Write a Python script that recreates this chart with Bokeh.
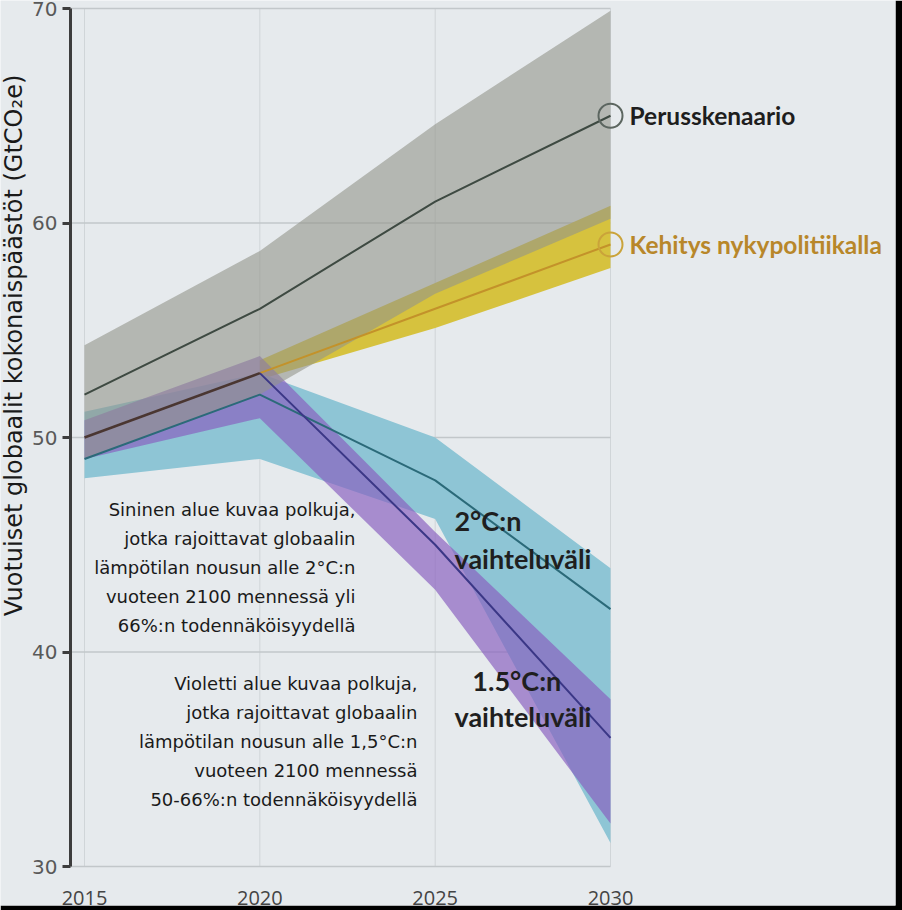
import math
from bokeh.plotting import figure
from bokeh.models import FixedTicker, Range1d
from bokeh.core.properties import value
from bokeh.embed import file_html
from bokeh.resources import INLINE

# ---------------- data ----------------
years = [2015, 2020, 2025, 2030]

# Perusskenaario (baseline)
base_mid = [52, 56, 61, 65]
base_low = [49.0, 52.0, 56.7, 60.2]
base_high = [54.3, 58.7, 64.6, 69.9]

# historical segment
hist_years = [2015, 2020]
hist = [50, 53]

# Kehitys nykypolitiikalla (current policy)
cur_years = [2020, 2025, 2030]
cur_mid = [53, 56, 59]
cur_low = [52.7, 55.1, 57.9]
cur_high = [53.6, 57.2, 60.8]

# 2 °C range
two_mid = [49, 52, 48, 42]
two_low = [48.1, 49.0, 46.2, 31.1]
two_high = [51.2, 53.0, 50.0, 43.9]

# 1.5 °C range
one5_years = [2020, 2025, 2030]
one5_mid = [53, 45, 36]
one5_low = [49.0, 50.9, 42.9, 32.0]
one5_high = [50.8, 53.8, 45.6, 37.8]

y_ticks = [30, 40, 50, 60, 70]
x_ticks = [2015, 2020, 2025, 2030]

series_names = ["Perusskenaario", "Kehitys nykypolitiikalla"]
series_end = [65, 59]

scen_text = ["2°C:n", "vaihteluväli", "1.5°C:n", "vaihteluväli"]
scen_x = [2025.55, 2025.55, 2026.06, 2025.55]
scen_y = [46.15, 44.36, 38.67, 37.0]

note_2c = ["Sininen alue kuvaa polkuja,", "jotka rajoittavat globaalin",
           "lämpötilan nousun alle 2°C:n", "vuoteen 2100 mennessä yli",
           "66%:n todennäköisyydellä"]
note_15 = ["Violetti alue kuvaa polkuja,", "jotka rajoittavat globaalin",
           "lämpötilan nousun alle 1,5°C:n", "vuoteen 2100 mennessä",
           "50-66%:n todennäköisyydellä"]

y_label = "Vuotuiset globaalit kokonaispäästöt (GtCO₂e)"

# ---------------- figure ----------------
BG = "#e6eaed"
X0, X1 = 2012.6046, 2038.127
Y0, Y1 = 28.182, 70.373
AXIS_X = 2014.6008

p = figure(width=902, height=910, output_backend="svg", toolbar_location=None,
           x_range=Range1d(X0, X1), y_range=Range1d(Y0, Y1),
           min_border_left=0, min_border_right=7, min_border_top=0, min_border_bottom=5)
p.background_fill_color = BG
p.border_fill_color = "#000000"
p.outline_line_color = None
p.grid.visible = False

# grid lines limited to the data area
ylo, yhi = y_ticks[0], y_ticks[-1]
p.segment(x0=x_ticks, y0=[ylo] * len(x_ticks), x1=x_ticks, y1=[yhi] * len(x_ticks),
          line_color="#d0d5d8", line_width=1)
p.segment(x0=[AXIS_X] * len(y_ticks), y0=y_ticks, x1=[x_ticks[-1]] * len(y_ticks), y1=y_ticks,
          line_color="#c2c7ca", line_width=1.5)

# y axis
ax = p.yaxis[0]
ax.fixed_location = AXIS_X
ax.bounds = (ylo, yhi)
ax.ticker = FixedTicker(ticks=y_ticks)
ax.axis_line_color = "#3d3d3d"
ax.axis_line_width = 3
ax.major_tick_line_color = "#3d3d3d"
ax.major_tick_line_width = 3
ax.major_tick_out = 8
ax.major_tick_in = 0
ax.minor_tick_line_color = None
ax.major_label_standoff = 5
ax.major_label_text_font = "DejaVu Sans"
ax.major_label_text_font_size = "20px"
ax.major_label_text_color = "#595959"

# x axis (labels only)
xa = p.xaxis[0]
xa.fixed_location = ylo
xa.ticker = FixedTicker(ticks=x_ticks)
xa.axis_line_color = None
xa.major_tick_line_color = None
xa.minor_tick_line_color = None
xa.major_tick_out = 0
xa.major_tick_in = 0
xa.major_label_standoff = 24
xa.major_label_text_font = "Open Sans"
xa.major_label_text_font_size = "20px"
xa.major_label_text_color = "#444444"

# ---------------- bands ----------------
p.varea(x=cur_years, y1=cur_low, y2=cur_high, fill_color="#d6c23e", fill_alpha=1.0)
p.varea(x=years, y1=two_low, y2=two_high, fill_color="#8ec5d5", fill_alpha=1.0)
p.varea(x=years, y1=one5_low, y2=one5_high, fill_color="#875ebf", fill_alpha=0.67)
p.varea(x=years, y1=base_low, y2=base_high, fill_color="#93958a", fill_alpha=0.6)

# ---------------- lines ----------------
p.line(years, base_mid, line_color="#3e4a42", line_width=2)
p.line(cur_years, cur_mid, line_color="#c3922a", line_width=2)
p.line(years, two_mid, line_color="#2b6a79", line_width=2)
p.line(one5_years, one5_mid, line_color="#3b3786", line_width=2)
p.line(hist_years, hist, line_color="#4a3631", line_width=2.5)

# end markers and series labels
p.scatter(x=[x_ticks[-1]] * 2, y=series_end, size=24, marker="circle",
          fill_color=None, line_color=["#5c6660", "#caa33a"], line_width=2)
p.text(x=[x_ticks[-1]] * 2, y=series_end, text=series_names, x_offset=19,
       text_font=value("Lato"), text_font_style="bold", text_font_size="24.5px",
       text_color=["#1e1e1e", "#b8872a"], text_baseline="middle", text_align="left")

# range labels
p.text(x=scen_x, y=scen_y, text=scen_text, text_font=value("Lato"),
       text_font_style="bold", text_font_size="27px", text_color="#1f1f1f",
       text_baseline="middle", text_align="left")

# explanatory notes
p.text(x=[2022.728], y=[43.94], text=["\n".join(note_2c)], text_font=value("DejaVu Sans"),
       text_font_size="18px", text_color="#1a1a1a", text_align="right",
       text_baseline="middle", text_line_height=1.39)
p.text(x=[2024.495], y=[35.83], text=["\n".join(note_15)], text_font=value("DejaVu Sans"),
       text_font_size="18px", text_color="#1a1a1a", text_align="right",
       text_baseline="middle", text_line_height=1.39)

# y axis title
p.text(x=[2013.0], y=[54.29], text=[y_label], angle=math.pi / 2,
       text_font=value("DejaVu Sans"), text_font_size="24px", text_color="#1a1a1a",
       text_align="center", text_baseline="middle")

open("out.html", "w").write(file_html(p, INLINE))
